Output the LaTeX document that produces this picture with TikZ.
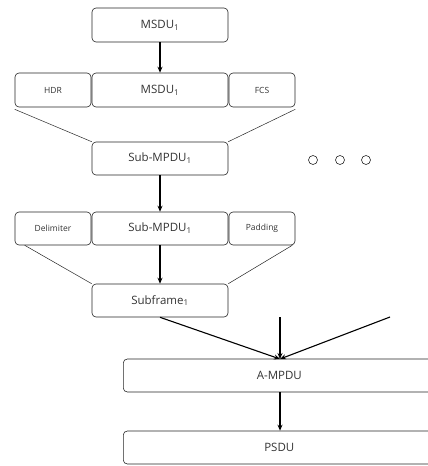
\documentclass[tikz,border=0pt]{standalone}
\usepackage{fontspec}
\setmainfont{Open Sans}
\usetikzlibrary{arrows.meta}
\begin{document}
\begin{tikzpicture}[x=1pt,y=-1pt,
  box/.style={draw=black!85,line width=0.6pt,rounded corners=4pt,inner sep=0pt},
  big/.style={font=\fontsize{11.5}{13}\selectfont,text=black!80},
  small/.style={font=\fontsize{8.5}{10}\selectfont,text=black!80},
  arr/.style={-{Stealth[length=6pt,width=5pt]},line width=1.1pt},
  thin/.style={line width=0.5pt,draw=black!85},
  dot/.style={circle,draw=black!85,line width=0.6pt,minimum size=9pt,inner sep=0pt}]
\useasboundingbox (0,0) rectangle (428,466);
\clip (0,0) rectangle (428,466);
% row 0
\node[box,big,minimum width=136pt,minimum height=34pt] (m0) at (160,25) {MSDU\textsubscript{1}};
% row 1
\node[box,small,minimum width=76pt,minimum height=34pt] (hdr) at (53,90) {HDR};
\node[box,big,minimum width=136pt,minimum height=34pt] (m1) at (160,90) {MSDU\textsubscript{1}};
\node[box,small,minimum width=66pt,minimum height=34pt] (fcs) at (262,90) {FCS};
% sub-mpdu
\node[box,big,minimum width=136pt,minimum height=33pt] (s0) at (160,158.5) {Sub-MPDU\textsubscript{1}};
% dots
\node[dot] (d1) at (313,160) {};
\node[dot] (d2) at (340,160) {};
\node[dot] (d3) at (366,160) {};
% row 2
\node[box,small,minimum width=76pt,minimum height=33pt] (del) at (53,228.5) {Delimiter};
\node[box,big,minimum width=136pt,minimum height=33pt] (s1) at (160,228.5) {Sub-MPDU\textsubscript{1}};
\node[box,small,minimum width=66pt,minimum height=33pt] (pad) at (262,228.5) {Padding};
% subframe
\node[box,big,minimum width=136pt,minimum height=33pt] (sf) at (160,300.5) {Subframe\textsubscript{1}};
% A-MPDU and PSDU
\node[box,big,minimum width=312pt,minimum height=33pt,anchor=west] (am) at (123,375.5) {A-MPDU};
\node[box,big,minimum width=312pt,minimum height=33pt,anchor=west] (ps) at (123,447.5) {PSDU};
% coordinates
\coordinate (tgt) at (280,359);
\coordinate (c2) at (280,317);
\coordinate (c3) at (390,317);
% arrows
\draw[arr] (m0.south) -- (m1.north);
\draw[arr] (s0.south) -- (s1.north);
\draw[arr] (s1.south) -- (sf.north);
\draw[arr] (sf.south) -- (tgt);
\draw[arr] (c2) -- (tgt);
\draw[arr] (c3) -- (tgt);
\draw[arr] (am.south -| tgt) -- (ps.north -| tgt);
% funnel lines
\draw[thin] ([yshift=-2pt]hdr.south west) -- (s0.north west);
\draw[thin] ([yshift=-2pt]fcs.south east) -- (s0.north east);
\draw[thin] ([xshift=10pt]del.south west) -- (sf.north west);
\draw[thin] ([xshift=-3pt]pad.south east) -- (sf.north east);
\end{tikzpicture}
\end{document}
